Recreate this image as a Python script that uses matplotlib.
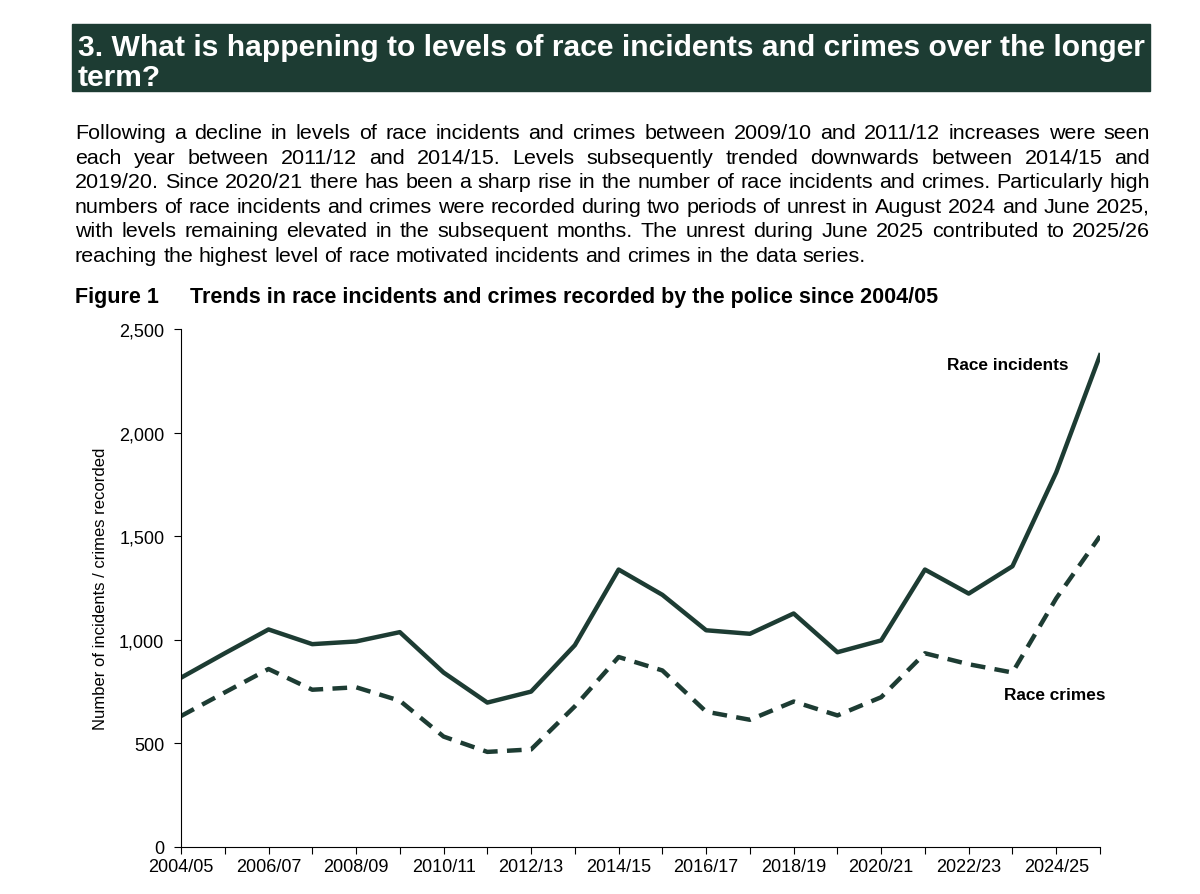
import matplotlib.pyplot as plt
from matplotlib.patches import Rectangle

plt.rcParams['font.family'] = ['Liberation Sans', 'DejaVu Sans']

# Data
years = ['2004/05', '2005/06', '2006/07', '2007/08', '2008/09', '2009/10', '2010/11',
         '2011/12', '2012/13', '2013/14', '2014/15', '2015/16', '2016/17', '2017/18',
         '2018/19', '2019/20', '2020/21', '2021/22', '2022/23', '2023/24', '2024/25',
         '2025/26']
race_incidents = [817, 935, 1050, 979, 992, 1037, 842, 697, 750, 974, 1339, 1217,
                  1046, 1029, 1127, 940, 997, 1339, 1223, 1355, 1808, 2373]
race_crimes = [632, 746, 859, 759, 771, 706, 533, 459, 471, 679, 917, 852,
               653, 614, 702, 635, 723, 935, 882, 842, 1200, 1500]

title_lines = ['3. What is happening to levels of race incidents and crimes over the longer',
               'term?']
body_lines = [
    'Following a decline in levels of race incidents and crimes between 2009/10 and 2011/12 increases were seen',
    'each year between 2011/12 and 2014/15. Levels subsequently trended downwards between 2014/15 and',
    '2019/20. Since 2020/21 there has been a sharp rise in the number of race incidents and crimes. Particularly high',
    'numbers of race incidents and crimes were recorded during two periods of unrest in August 2024 and June 2025,',
    'with levels remaining elevated in the subsequent months. The unrest during June 2025 contributed to 2025/26',
    'reaching the highest level of race motivated incidents and crimes in the data series.',
]

green = '#1d3c33'
W, H = 1200, 895

fig = plt.figure(figsize=(12, 8.95), dpi=100)
renderer = fig.canvas.get_renderer()


def text_width(s, size, **kw):
    t = fig.text(0, 0, s, fontsize=size, **kw)
    w = t.get_window_extent(renderer).width
    t.remove()
    return w


def justify(line, y, x0, x1, size, last=False):
    words = line.split(' ')
    widths = [text_width(w, size) for w in words]
    if last:
        gap = text_width('a a', size) - 2 * text_width('a', size)
    else:
        gap = (x1 - x0 - sum(widths)) / (len(words) - 1)
    x = x0
    for w, wd in zip(words, widths):
        fig.text(x / W, 1 - y / H, w, fontsize=size, va='baseline', ha='left')
        x += wd + gap


# Title banner
fig.patches.append(Rectangle((72 / W, 1 - 92 / H), (1150 - 72) / W, 67 / H,
                             transform=fig.transFigure, color=green, zorder=0))
tsize = 10 * (1148 - 78) / text_width(title_lines[0], 10, fontweight='bold')
fig.text(78 / W, 1 - 56 / H, title_lines[0], color='white', fontsize=tsize,
         fontweight='bold', va='baseline')
fig.text(78 / W, 1 - 86 / H, title_lines[1], color='white', fontsize=tsize,
         fontweight='bold', va='baseline')

# Body paragraph, justified; size fitted so the longest line fills the width
bsize = 10 * (1150 - 75) / text_width(body_lines[2], 10)
for i, line in enumerate(body_lines):
    justify(line, 139 + 24.6 * i, 75, 1150, bsize, last=(i == len(body_lines) - 1))

fig.text(75 / W, 1 - 303 / H, 'Figure 1', fontsize=15.5, fontweight='bold', va='baseline')
fig.text(190 / W, 1 - 303 / H, 'Trends in race incidents and crimes recorded by the police since 2004/05',
         fontsize=15.5, fontweight='bold', va='baseline')

# Chart
ax = fig.add_axes([181 / W, 1 - 848 / H, (1100 - 181) / W, (848 - 330) / H])
x = list(range(len(years)))
ax.plot(x, race_incidents, color=green, lw=3.2)
ax.plot(x, race_crimes, color=green, lw=3.2, dashes=(3.3, 2.1))

ax.set_xlim(0, len(years) - 1)
ax.set_ylim(0, 2500)
ax.set_yticks([0, 500, 1000, 1500, 2000, 2500])
ax.set_yticklabels(['0', '500', '1,000', '1,500', '2,000', '2,500'])
ax.set_xticks(x)
ax.set_xticklabels([y if i % 2 == 0 else '' for i, y in enumerate(years)])
ax.tick_params(labelsize=13, length=5, width=0.8, direction='out')
ax.tick_params(axis='y', pad=7)
ax.tick_params(axis='x', pad=3)
for side in ['top', 'right']:
    ax.spines[side].set_visible(False)
for side in ['left', 'bottom']:
    ax.spines[side].set_linewidth(0.8)
ax.set_ylabel('Number of incidents / crimes recorded', fontsize=12)
ax.yaxis.set_label_coords(-73 / 919, 0.5)

ax.text(18.9, 2330, 'Race incidents', fontsize=12.4, fontweight='bold', ha='center', va='center')
ax.text(19.97, 738, 'Race crimes', fontsize=12.4, fontweight='bold', ha='center', va='center')

fig.savefig('out.png', dpi=100)
